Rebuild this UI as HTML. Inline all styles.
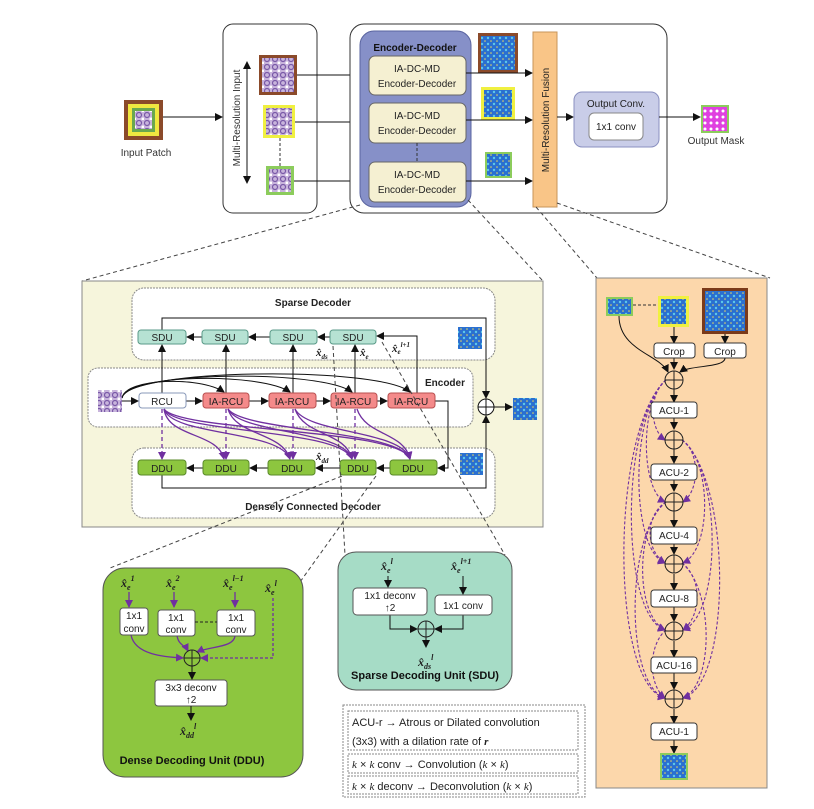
<!DOCTYPE html>
<html><head><meta charset="utf-8"><style>
body{margin:0;background:#fff}
svg{display:block;font-family:"Liberation Sans",sans-serif}
.m{font-family:"Liberation Serif",serif;font-weight:bold;font-style:italic}
</style></head><body>
<svg width="814" height="809" viewBox="0 0 814 809" xmlns="http://www.w3.org/2000/svg">
<defs>
<marker id="a" markerWidth="8" markerHeight="8" refX="7" refY="4" orient="auto" markerUnits="userSpaceOnUse"><path d="M0,0 L8,4 L0,8 z" fill="#111"/></marker>
<marker id="p" markerWidth="8" markerHeight="8" refX="7" refY="4" orient="auto" markerUnits="userSpaceOnUse"><path d="M0,0 L8,4 L0,8 z" fill="#7030a0"/></marker>
<pattern id="tis" width="8" height="8" patternUnits="userSpaceOnUse"><rect width="8" height="8" fill="#c8b4dc"/><circle cx="3" cy="3" r="2.5" fill="none" stroke="#7a5aa8" stroke-width="1.2"/><circle cx="7" cy="7" r="1.5" fill="#fff"/></pattern>
<pattern id="blu" width="6" height="6" patternUnits="userSpaceOnUse"><rect width="6" height="6" fill="#2a6fd0"/><circle cx="2" cy="2" r="1.2" fill="#5ec8e8"/><circle cx="5" cy="5" r="0.8" fill="#e8d860"/></pattern>
<pattern id="pnk" width="6" height="6" patternUnits="userSpaceOnUse"><rect width="6" height="6" fill="#e040e0"/><circle cx="3" cy="3" r="1.5" fill="#fff"/></pattern>
</defs>

<!-- TOP -->
<rect x="124" y="100" width="39" height="40" fill="#8b4a2a"/>
<rect x="128" y="104" width="31" height="32" fill="#f0e840"/>
<rect x="132" y="108" width="23" height="24" fill="#6aa84f"/>
<rect x="135" y="111" width="17" height="18" fill="url(#tis)"/>
<text x="146" y="156" font-size="10" text-anchor="middle" fill="#333">Input Patch</text>
<line x1="163" y1="117" x2="222" y2="117" stroke="#111" marker-end="url(#a)"/>

<rect x="223" y="24" width="94" height="189" rx="10" fill="#fff" stroke="#333"/>
<text transform="translate(240,118) rotate(-90)" font-size="10" text-anchor="middle" fill="#333">Multi-Resolution Input</text>
<line x1="247" y1="70" x2="247" y2="183" stroke="#111" marker-end="url(#a)"/>
<line x1="247" y1="183" x2="247" y2="62" stroke="#111" marker-end="url(#a)"/>
<rect x="259" y="55" width="38" height="40" fill="#8b4a2a"/><rect x="262" y="58" width="32" height="34" fill="url(#tis)"/>
<rect x="263" y="105" width="32" height="33" fill="#f0f040"/><rect x="266" y="108" width="26" height="27" fill="url(#tis)"/>
<rect x="266" y="166" width="28" height="29" fill="#8ccc5c"/><rect x="269" y="169" width="22" height="23" fill="url(#tis)"/>
<line x1="280" y1="138" x2="280" y2="166" stroke="#333" stroke-dasharray="3,2"/>
<line x1="297" y1="75" x2="368" y2="75" stroke="#111" marker-end="url(#a)"/>
<line x1="295" y1="122" x2="368" y2="122" stroke="#111" marker-end="url(#a)"/>
<line x1="294" y1="181" x2="368" y2="181" stroke="#111" marker-end="url(#a)"/>

<rect x="350" y="24" width="317" height="189" rx="14" fill="#fff" stroke="#333"/>
<rect x="360" y="31" width="111" height="176" rx="14" fill="#8690c8" stroke="#5a64a0"/>
<text x="415" y="51" font-size="10" font-weight="bold" text-anchor="middle" fill="#111">Encoder-Decoder</text>
<g font-size="10" text-anchor="middle" fill="#222">
<rect x="369" y="56" width="97" height="39" rx="6" fill="#f5f0d2" stroke="#666"/><text x="417" y="72">IA-DC-MD</text><text x="417" y="87">Encoder-Decoder</text>
<rect x="369" y="103" width="97" height="40" rx="6" fill="#f5f0d2" stroke="#666"/><text x="417" y="119">IA-DC-MD</text><text x="417" y="134">Encoder-Decoder</text>
<rect x="369" y="162" width="97" height="40" rx="6" fill="#f5f0d2" stroke="#666"/><text x="417" y="178">IA-DC-MD</text><text x="417" y="193">Encoder-Decoder</text>
</g>
<line x1="417" y1="143" x2="417" y2="162" stroke="#333" stroke-dasharray="3,2"/>
<rect x="478" y="33" width="40" height="40" fill="#8b4a2a"/><rect x="481" y="36" width="34" height="34" fill="url(#blu)"/>
<rect x="481" y="87" width="34" height="33" fill="#f0f040"/><rect x="484" y="90" width="28" height="27" fill="url(#blu)"/>
<rect x="485" y="152" width="27" height="26" fill="#8ccc5c"/><rect x="487" y="154" width="23" height="22" fill="url(#blu)"/>
<line x1="466" y1="73" x2="532" y2="73" stroke="#111" marker-end="url(#a)"/>
<line x1="466" y1="120" x2="532" y2="120" stroke="#111" marker-end="url(#a)"/>
<line x1="466" y1="181" x2="532" y2="181" stroke="#111" marker-end="url(#a)"/>
<rect x="533" y="32" width="24" height="175" fill="#f9c587" stroke="#c8955a"/>
<text transform="translate(549,120) rotate(-90)" font-size="10" text-anchor="middle" fill="#222">Multi-Resolution Fusion</text>
<line x1="557" y1="117" x2="573" y2="117" stroke="#111" marker-end="url(#a)"/>
<rect x="574" y="92" width="85" height="55" rx="8" fill="#c9cde8" stroke="#8a90c0"/>
<text x="616" y="107" font-size="10" text-anchor="middle" fill="#222">Output Conv.</text>
<rect x="589" y="113" width="54" height="27" rx="5" fill="#fff" stroke="#888"/>
<text x="616" y="130" font-size="10" text-anchor="middle" fill="#222">1x1 conv</text>
<line x1="659" y1="117" x2="700" y2="117" stroke="#111" marker-end="url(#a)"/>
<rect x="701" y="105" width="28" height="28" fill="#8ccc5c"/><rect x="703" y="107" width="24" height="24" fill="url(#pnk)"/>
<text x="716" y="144" font-size="10" text-anchor="middle" fill="#333">Output Mask</text>

<!-- zoom lines -->
<g stroke="#444" stroke-dasharray="4,3" fill="none">
<line x1="360" y1="205" x2="82" y2="281"/>
<line x1="468" y1="200" x2="543" y2="281"/>
<line x1="536" y1="207" x2="597" y2="278"/>
<line x1="557" y1="203" x2="770" y2="278"/>
</g>

<!-- MIDDLE -->
<rect x="82" y="281" width="461" height="246" fill="#f6f5dc" stroke="#888"/>
<rect x="132" y="288" width="363" height="72" rx="12" fill="#fff" stroke="#888" stroke-dasharray="2,1"/>
<text x="313" y="306" font-size="10" font-weight="bold" text-anchor="middle" fill="#222">Sparse Decoder</text>
<rect x="88" y="368" width="385" height="59" rx="10" fill="#fff" stroke="#888" stroke-dasharray="2,1"/>
<text x="445" y="386" font-size="10" font-weight="bold" text-anchor="middle" fill="#222">Encoder</text>
<rect x="132" y="448" width="363" height="70" rx="12" fill="#fff" stroke="#888" stroke-dasharray="2,1"/>
<text x="313" y="510" font-size="10" font-weight="bold" text-anchor="middle" fill="#222">Densely Connected Decoder</text>

<g stroke="#111" fill="none">
<polyline points="162,330 162,318 486,318 486,398" marker-end="url(#a)"/>
<polyline points="162,475 162,488 486,488 486,416" marker-end="url(#a)"/>
<line x1="162" y1="393" x2="162" y2="345" marker-end="url(#a)"/>
<line x1="226" y1="393" x2="226" y2="345" marker-end="url(#a)"/>
<line x1="293" y1="393" x2="293" y2="345" marker-end="url(#a)"/>
<line x1="355" y1="393" x2="355" y2="345" marker-end="url(#a)"/>
<polyline points="417,393 417,336 377,336" marker-end="url(#a)"/>
<line x1="330" y1="337" x2="318" y2="337" marker-end="url(#a)"/>
<line x1="270" y1="337" x2="249" y2="337" marker-end="url(#a)"/>
<line x1="202" y1="337" x2="187" y2="337" marker-end="url(#a)"/>
<line x1="122" y1="401" x2="138" y2="401" marker-end="url(#a)"/>
<line x1="186" y1="401" x2="202" y2="401" marker-end="url(#a)"/>
<line x1="249" y1="401" x2="268" y2="401" marker-end="url(#a)"/>
<line x1="316" y1="401" x2="330" y2="401" marker-end="url(#a)"/>
<line x1="377" y1="401" x2="387" y2="401" marker-end="url(#a)"/>
<polyline points="435,401 448,401 448,468 438,468" marker-end="url(#a)"/>
<line x1="390" y1="468" x2="377" y2="468" marker-end="url(#a)"/>
<line x1="340" y1="468" x2="316" y2="468" marker-end="url(#a)"/>
<line x1="268" y1="468" x2="250" y2="468" marker-end="url(#a)"/>
<line x1="203" y1="468" x2="187" y2="468" marker-end="url(#a)"/>
<path d="M122,398 C125,378 200,376 224,392" marker-end="url(#a)"/>
<path d="M122,398 C126,374 260,372 290,392" marker-end="url(#a)"/>
<path d="M122,398 C127,371 320,369 352,392" marker-end="url(#a)"/>
<path d="M122,398 C128,368 380,366 410,392" marker-end="url(#a)"/>
<line x1="494" y1="407" x2="512" y2="407" marker-end="url(#a)"/>
</g>
<circle cx="486" cy="407" r="8" fill="#fff" stroke="#111"/>
<path d="M478,407 H494 M486,399 V415" stroke="#111"/>

<g stroke="#7030a0" fill="none" stroke-width="1.3">
<line x1="162" y1="409" x2="162" y2="459" stroke-dasharray="4,3" marker-end="url(#p)"/>
<line x1="226" y1="409" x2="226" y2="459" stroke-dasharray="4,3" marker-end="url(#p)"/>
<line x1="293" y1="409" x2="293" y2="459" stroke-dasharray="4,3" marker-end="url(#p)"/>
<line x1="355" y1="409" x2="355" y2="459" stroke-dasharray="4,3" marker-end="url(#p)"/>
<path d="M164,409 C168,438 218,432 224,459" marker-end="url(#p)"/>
<path d="M164,409 C172,436 280,430 290,459" marker-end="url(#p)"/>
<path d="M164,409 C176,434 340,428 352,459" marker-end="url(#p)"/>
<path d="M164,409 C180,432 400,428 410,459" marker-end="url(#p)"/>
<path d="M228,409 C236,436 282,432 290,459" marker-end="url(#p)"/>
<path d="M228,409 C240,434 344,430 352,459" marker-end="url(#p)"/>
<path d="M228,409 C244,432 400,430 410,459" marker-end="url(#p)"/>
<path d="M295,409 C304,436 346,432 352,459" marker-end="url(#p)"/>
<path d="M295,409 C308,434 402,430 410,459" marker-end="url(#p)"/>
<path d="M357,409 C366,436 404,432 410,459" marker-end="url(#p)"/>
</g>

<g font-size="10" text-anchor="middle" fill="#222">
<rect x="138" y="330" width="48" height="14" rx="3" fill="#b6e2d3" stroke="#5a9a88"/><text x="162" y="341">SDU</text>
<rect x="202" y="330" width="46" height="14" rx="3" fill="#b6e2d3" stroke="#5a9a88"/><text x="225" y="341">SDU</text>
<rect x="270" y="330" width="47" height="14" rx="3" fill="#b6e2d3" stroke="#5a9a88"/><text x="293" y="341">SDU</text>
<rect x="330" y="330" width="46" height="14" rx="3" fill="#b6e2d3" stroke="#5a9a88"/><text x="353" y="341">SDU</text>
<rect x="139" y="393" width="47" height="15" rx="3" fill="#fff" stroke="#8898b8"/><text x="162" y="405">RCU</text>
<rect x="203" y="393" width="46" height="15" rx="3" fill="#f48a8a" stroke="#b85050"/><text x="226" y="405">IA-RCU</text>
<rect x="269" y="393" width="47" height="15" rx="3" fill="#f48a8a" stroke="#b85050"/><text x="292" y="405">IA-RCU</text>
<rect x="331" y="393" width="46" height="15" rx="3" fill="#f48a8a" stroke="#b85050"/><text x="354" y="405">IA-RCU</text>
<rect x="388" y="393" width="47" height="15" rx="3" fill="#f48a8a" stroke="#b85050"/><text x="411" y="405">IA-RCU</text>
<rect x="138" y="460" width="48" height="15" rx="3" fill="#8dc63f" stroke="#5a8a2a"/><text x="162" y="472">DDU</text>
<rect x="203" y="460" width="46" height="15" rx="3" fill="#8dc63f" stroke="#5a8a2a"/><text x="226" y="472">DDU</text>
<rect x="268" y="460" width="47" height="15" rx="3" fill="#8dc63f" stroke="#5a8a2a"/><text x="292" y="472">DDU</text>
<rect x="340" y="460" width="36" height="15" rx="3" fill="#8dc63f" stroke="#5a8a2a"/><text x="358" y="472">DDU</text>
<rect x="390" y="460" width="47" height="15" rx="3" fill="#8dc63f" stroke="#5a8a2a"/><text x="413" y="472">DDU</text>
</g>
<rect x="98" y="390" width="24" height="22" fill="url(#tis)"/>
<rect x="458" y="327" width="24" height="22" fill="url(#blu)"/>
<rect x="460" y="453" width="23" height="22" fill="url(#blu)"/>
<rect x="513" y="398" width="24" height="22" fill="url(#blu)"/>
<g font-size="11" class="m" fill="#222">
<text x="316" y="356">x̂<tspan font-size="7" dy="3">ds</tspan></text>
<text x="360" y="356">x̂<tspan font-size="7" dy="3">e</tspan></text>
<text x="392" y="352">x̂<tspan font-size="7" dy="2">e</tspan><tspan font-size="7" dy="-7">l+1</tspan></text>
<text x="316" y="460">x̂<tspan font-size="7" dy="3">dd</tspan></text>
</g>

<g stroke="#444" stroke-dasharray="4,3" fill="none">
<line x1="333" y1="346" x2="345" y2="555"/>
<line x1="382" y1="342" x2="505" y2="555"/>
<line x1="342" y1="476" x2="110" y2="568"/>
<line x1="376" y1="476" x2="300" y2="582"/>
</g>

<!-- RIGHT PANEL -->
<rect x="596" y="278" width="171" height="510" fill="#fcd7ab" stroke="#888"/>
<rect x="606" y="297" width="27" height="19" fill="#8ccc5c"/><rect x="608" y="299" width="23" height="15" fill="url(#blu)"/>
<rect x="658" y="296" width="31" height="31" fill="#f0f040"/><rect x="661" y="299" width="25" height="25" fill="url(#blu)"/>
<rect x="702" y="288" width="46" height="46" fill="#7a3a1a"/><rect x="705" y="291" width="40" height="40" fill="url(#blu)"/>
<line x1="633" y1="305" x2="658" y2="305" stroke="#333" stroke-dasharray="3,2"/>
<g stroke="#111" fill="none">
<line x1="674" y1="327" x2="674" y2="343" marker-end="url(#a)"/>
<line x1="725" y1="334" x2="725" y2="343" marker-end="url(#a)"/>
<path d="M619,316 C619,350 660,355 668,372" marker-end="url(#a)"/>
<path d="M725,358 C725,368 690,365 680,372" marker-end="url(#a)"/>
<line x1="674" y1="357" x2="674" y2="369" marker-end="url(#a)"/>
<line x1="674" y1="389" x2="674" y2="402" marker-end="url(#a)"/>
<line x1="674" y1="418" x2="674" y2="429" marker-end="url(#a)"/>
<line x1="674" y1="449" x2="674" y2="463" marker-end="url(#a)"/>
<line x1="674" y1="480" x2="674" y2="491" marker-end="url(#a)"/>
<line x1="674" y1="511" x2="674" y2="527" marker-end="url(#a)"/>
<line x1="674" y1="544" x2="674" y2="554" marker-end="url(#a)"/>
<line x1="674" y1="574" x2="674" y2="590" marker-end="url(#a)"/>
<line x1="674" y1="607" x2="674" y2="621" marker-end="url(#a)"/>
<line x1="674" y1="641" x2="674" y2="657" marker-end="url(#a)"/>
<line x1="674" y1="673" x2="674" y2="689" marker-end="url(#a)"/>
<line x1="674" y1="709" x2="674" y2="723" marker-end="url(#a)"/>
<line x1="674" y1="740" x2="674" y2="753" marker-end="url(#a)"/>
</g>
<g stroke="#7030a0" fill="none" stroke-width="1.1" stroke-dasharray="3,2">
<path d="M666,380 C648,395 650,430 665,440" marker-end="url(#p)"/>
<path d="M666,380 C640,400 640,490 665,502" marker-end="url(#p)"/>
<path d="M666,380 C630,410 630,550 665,563" marker-end="url(#p)"/>
<path d="M666,380 C620,420 620,615 665,630" marker-end="url(#p)"/>
<path d="M666,380 C610,430 610,685 665,698" marker-end="url(#p)"/>
<path d="M682,440 C700,452 700,490 683,502" marker-end="url(#p)"/>
<path d="M682,440 C712,460 712,550 683,563" marker-end="url(#p)"/>
<path d="M682,440 C722,470 722,615 683,630" marker-end="url(#p)"/>
<path d="M682,440 C732,480 732,685 683,698" marker-end="url(#p)"/>
<path d="M666,502 C645,515 645,550 665,563" marker-end="url(#p)"/>
<path d="M666,502 C635,525 635,615 665,630" marker-end="url(#p)"/>
<path d="M666,502 C625,535 625,685 665,698" marker-end="url(#p)"/>
<path d="M682,563 C702,578 702,615 683,630" marker-end="url(#p)"/>
<path d="M682,563 C714,590 714,685 683,698" marker-end="url(#p)"/>
<path d="M666,630 C648,645 648,685 665,698" marker-end="url(#p)"/>
</g>
<g font-size="10" text-anchor="middle" fill="#222">
<rect x="654" y="343" width="41" height="15" rx="3" fill="#fff" stroke="#333"/><text x="674" y="355">Crop</text>
<rect x="704" y="343" width="42" height="15" rx="3" fill="#fff" stroke="#333"/><text x="725" y="355">Crop</text>
<rect x="651" y="402" width="46" height="16" rx="3" fill="#fff" stroke="#333"/><text x="674" y="414">ACU-1</text>
<rect x="651" y="464" width="46" height="16" rx="3" fill="#fff" stroke="#333"/><text x="674" y="476">ACU-2</text>
<rect x="651" y="527" width="46" height="17" rx="3" fill="#fff" stroke="#333"/><text x="674" y="539">ACU-4</text>
<rect x="651" y="590" width="46" height="17" rx="3" fill="#fff" stroke="#333"/><text x="674" y="602">ACU-8</text>
<rect x="651" y="657" width="46" height="16" rx="3" fill="#fff" stroke="#333"/><text x="674" y="669">ACU-16</text>
<rect x="651" y="723" width="46" height="17" rx="3" fill="#fff" stroke="#333"/><text x="674" y="735">ACU-1</text>
</g>
<g fill="none" stroke="#222">
<circle cx="674" cy="380" r="9"/><path d="M665,380 H683 M674,371 V389"/>
<circle cx="674" cy="440" r="9"/><path d="M665,440 H683 M674,431 V449"/>
<circle cx="674" cy="502" r="9"/><path d="M665,502 H683 M674,493 V511"/>
<circle cx="674" cy="564" r="9"/><path d="M665,564 H683 M674,555 V573"/>
<circle cx="674" cy="631" r="9"/><path d="M665,631 H683 M674,622 V640"/>
<circle cx="674" cy="699" r="9"/><path d="M665,699 H683 M674,690 V708"/>
</g>
<rect x="660" y="753" width="28" height="27" fill="#8ccc5c"/><rect x="662" y="755" width="24" height="23" fill="url(#blu)"/>

<!-- DDU detail -->
<rect x="103" y="568" width="200" height="209" rx="22" fill="#8dc63f" stroke="#555"/>
<g class="m" font-size="12" fill="#222">
<text x="121" y="587">x̂<tspan font-size="8" dy="3">e</tspan><tspan font-size="8" dy="-9">1</tspan></text>
<text x="166" y="587">x̂<tspan font-size="8" dy="3">e</tspan><tspan font-size="8" dy="-9">2</tspan></text>
<text x="223" y="587">x̂<tspan font-size="8" dy="3">e</tspan><tspan font-size="8" dy="-9">l−1</tspan></text>
<text x="265" y="592">x̂<tspan font-size="8" dy="3">e</tspan><tspan font-size="8" dy="-9">l</tspan></text>
<text x="180" y="735">x̂<tspan font-size="8" dy="3">dd</tspan><tspan font-size="8" dy="-9">l</tspan></text>
</g>
<g stroke="#7030a0" fill="none" stroke-width="1.3">
<line x1="129" y1="592" x2="129" y2="607" marker-end="url(#p)"/>
<line x1="174" y1="592" x2="174" y2="607" marker-end="url(#p)"/>
<line x1="235" y1="592" x2="235" y2="607" marker-end="url(#p)"/>
<path d="M131,635 C135,655 165,657 183,658" marker-end="url(#p)"/>
<path d="M177,635 C178,645 185,645 188,651" marker-end="url(#p)"/>
<path d="M235,635 C235,648 210,646 197,652" marker-end="url(#p)"/>
<polyline points="273,598 273,658 201,658" stroke-dasharray="3,2" marker-end="url(#p)"/>
</g>
<g font-size="10" text-anchor="middle" fill="#222">
<rect x="120" y="608" width="28" height="27" rx="3" fill="#fff" stroke="#555"/><text x="134" y="619">1x1</text><text x="134" y="632">conv</text>
<rect x="158" y="610" width="37" height="26" rx="3" fill="#fff" stroke="#555"/><text x="176" y="621">1x1</text><text x="176" y="633">conv</text>
<rect x="217" y="610" width="38" height="26" rx="3" fill="#fff" stroke="#555"/><text x="236" y="621">1x1</text><text x="236" y="633">conv</text>
<rect x="155" y="680" width="72" height="26" rx="3" fill="#fff" stroke="#555"/><text x="191" y="691">3x3 deconv</text><text x="191" y="703">↑2</text>
</g>
<line x1="195" y1="622" x2="217" y2="622" stroke="#222" stroke-dasharray="3,2"/>
<circle cx="192" cy="658" r="8" fill="none" stroke="#222"/><path d="M184,658 H200 M192,650 V666" stroke="#222"/>
<line x1="192" y1="666" x2="192" y2="679" stroke="#111" marker-end="url(#a)"/>
<line x1="191" y1="706" x2="191" y2="720" stroke="#111" marker-end="url(#a)"/>
<text x="192" y="764" font-size="11" font-weight="bold" text-anchor="middle" fill="#111">Dense Decoding Unit (DDU)</text>

<!-- SDU detail -->
<rect x="338" y="552" width="174" height="138" rx="18" fill="#a6dcc6" stroke="#555"/>
<g class="m" font-size="12" fill="#222">
<text x="381" y="570">x̂<tspan font-size="8" dy="3">e</tspan><tspan font-size="8" dy="-9">l</tspan></text>
<text x="451" y="570">x̂<tspan font-size="8" dy="3">e</tspan><tspan font-size="8" dy="-9">l+1</tspan></text>
<text x="418" y="666">x̂<tspan font-size="8" dy="3">ds</tspan><tspan font-size="8" dy="-9">l</tspan></text>
</g>
<g stroke="#111" fill="none">
<line x1="388" y1="576" x2="388" y2="587" marker-end="url(#a)"/>
<line x1="463" y1="576" x2="463" y2="594" marker-end="url(#a)"/>
<polyline points="390,615 390,629 417,629" marker-end="url(#a)"/>
<polyline points="463,615 463,629 435,629" marker-end="url(#a)"/>
<line x1="426" y1="637" x2="426" y2="647" marker-end="url(#a)"/>
</g>
<g font-size="10" text-anchor="middle" fill="#222">
<rect x="353" y="588" width="74" height="27" rx="4" fill="#fff" stroke="#555"/><text x="390" y="599">1x1 deconv</text><text x="390" y="611">↑2</text>
<rect x="435" y="595" width="57" height="20" rx="4" fill="#fff" stroke="#555"/><text x="463" y="609">1x1 conv</text>
</g>
<circle cx="426" cy="629" r="8" fill="none" stroke="#222"/><path d="M418,629 H434 M426,621 V637" stroke="#222"/>
<text x="425" y="679" font-size="11" font-weight="bold" text-anchor="middle" fill="#111">Sparse Decoding Unit (SDU)</text>

<!-- legend -->
<rect x="343" y="705" width="242" height="92" fill="#fff" stroke="#888" stroke-dasharray="2,1"/>
<rect x="348" y="711" width="230" height="39" fill="#fff" stroke="#888" stroke-dasharray="2,1"/>
<rect x="348" y="754" width="230" height="19" fill="#fff" stroke="#888" stroke-dasharray="2,1"/>
<rect x="348" y="776" width="230" height="18" fill="#fff" stroke="#888" stroke-dasharray="2,1"/>
<g font-size="11" fill="#222">
<text x="352" y="726">ACU-r → Atrous or Dilated convolution</text>
<text x="352" y="745">(3x3) with a dilation rate of <tspan class="m">r</tspan></text>
<text x="352" y="768"><tspan font-style="italic" font-family="Liberation Serif">k</tspan> × <tspan font-style="italic" font-family="Liberation Serif">k</tspan>  conv → Convolution (<tspan font-style="italic" font-family="Liberation Serif">k</tspan> × <tspan font-style="italic" font-family="Liberation Serif">k</tspan>)</text>
<text x="352" y="790"><tspan font-style="italic" font-family="Liberation Serif">k</tspan> × <tspan font-style="italic" font-family="Liberation Serif">k</tspan> deconv → Deconvolution (<tspan font-style="italic" font-family="Liberation Serif">k</tspan> × <tspan font-style="italic" font-family="Liberation Serif">k</tspan>)</text>
</g>
</svg>
</body></html>
